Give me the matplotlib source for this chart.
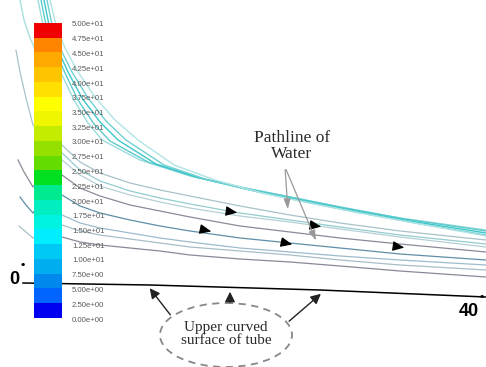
import numpy as np
import matplotlib.pyplot as plt
from matplotlib.colors import ListedColormap
from matplotlib.patches import Ellipse

W, H = 486, 367

# legend levels (0 .. 50 step 2.5) and band colours, bottom to top
levels = np.arange(0, 50.01, 2.5)
level_labels = [f"{v:.2e}" for v in levels]
band_colors = ['#0000f0', '#0064ff', '#0088ec', '#00aef0', '#00c8f4',
               '#00eeff', '#00f2e0', '#00eec0', '#00ea90', '#00e020',
               '#64dc00', '#96e000', '#c4ec00', '#eef600', '#ffff00',
               '#ffe000', '#ffc400', '#ffa800', '#ff8400', '#f00000']

# pathlines (image pixel units, y downward)
cyan_lines = [
    [(20, 0), (24, 20), (30, 38), (40, 60)],
    [(38, 0), (43, 25), (52, 50), (62, 75), (74, 100), (88, 123), (102, 140), (140, 160),
     (190, 176), (240, 187), (290, 197), (340, 207), (400, 218), (486, 230)],
    [(41, 0), (46, 25), (55, 50), (65, 73), (78, 100), (94, 124), (110, 141), (148, 162),
     (195, 177), (245, 188), (295, 198), (345, 208), (405, 219), (486, 231)],
    [(44, 0), (49, 25), (58, 50), (68, 72), (82, 98), (100, 122), (118, 140), (156, 164),
     (200, 178), (250, 190), (300, 200), (350, 210), (410, 221), (486, 233)],
    [(47, 0), (52, 25), (61, 50), (72, 72), (88, 98), (106, 121), (126, 140), (164, 165),
     (208, 180), (258, 192), (305, 202), (355, 212), (415, 223), (486, 235)],
    [(50, 0), (56, 25), (65, 48), (78, 72), (95, 97), (115, 120), (138, 140), (174, 165),
     (215, 180), (262, 193), (310, 203), (360, 213), (420, 224), (486, 236)],
]
cyan_colors = ['#a8dede', '#9adcdc', '#5ccacc', '#3cc6ca', '#6ed0d2', '#b0e4e4']

path_x = [62, 80, 100, 130, 160, 190, 240, 290, 340, 400, 486]
other_y = [
    [145, 162, 173, 183, 190, 196, 206, 215, 223, 231, 240],
    [153, 170, 181, 191, 198, 204, 213, 220, 227, 235, 244],
    [160, 175, 186, 195, 202, 208, 216, 222, 229, 237, 247],
    [175, 188, 196, 205, 211, 217, 226, 232, 238, 244, 252],
    [195, 206, 213, 220, 226, 231, 238, 243, 248, 254, 260],
    [215, 223, 228, 233, 238, 242, 248, 252, 256, 260, 265],
    [225, 231, 235, 239, 243, 247, 251, 255, 260, 265, 270],
    [237, 242, 245, 248, 251, 255, 259, 262, 266, 271, 277],
]
# upstream parts left of the legend bar
other_lead = [
    [(16, 50), (20, 72), (26, 98), (33, 125), (48, 138)],
    [(40, 140)],
    [(40, 150)],
    [(18, 160), (24, 172), (33, 187), (48, 168)],
    [(20, 197), (26, 205), (33, 213), (48, 195)],
    [(40, 210)],
    [(19, 226), (26, 232), (33, 238), (48, 228)],
    [(40, 235)],
]
other_colors = ['#a8c2c8', '#94ccd0', '#b6d0d6', '#8e8898', '#5e8ea8',
                '#9cbccc', '#a6bec8', '#8a8896']

# flow direction arrows (tail, tip)
flow_tail = [(226, 211), (310, 225), (200, 229), (281, 242), (393, 246)]
flow_tip = [(240, 213), (324, 227), (214, 232), (295, 245), (407, 248)]

surface = [(23, 283), (150, 285), (320, 290), (486, 297)]

fig = plt.figure(figsize=(W / 100, H / 100), dpi=100)
ax = fig.add_axes([0, 0, 1, 1])
ax.set_xlim(0, W)
ax.set_ylim(H, 0)
ax.axis('off')

for pts, c in zip(cyan_lines, cyan_colors):
    xs, ys = zip(*pts)
    ax.plot(xs, ys, color=c, lw=1.0, zorder=2, solid_capstyle='round')

for lead, ys, c in zip(other_lead, other_y, other_colors):
    xs = [p[0] for p in lead] + path_x
    yy = [p[1] for p in lead] + ys
    ax.plot(xs, yy, color=c, lw=0.9, zorder=1)

for t, h in zip(flow_tail, flow_tip):
    ax.annotate('', xy=h, xytext=t, zorder=4,
                arrowprops=dict(arrowstyle='-|>,head_length=0.7,head_width=0.3',
                                color='black', lw=0.8))

sx, sy = zip(*surface)
ax.plot(sx, sy, color='black', lw=1.1, zorder=3)

# legend bar
bar_top, bar_bot = 23, 318
cmap = ListedColormap(band_colors)
ax.imshow(np.arange(20)[::-1].reshape(-1, 1), cmap=cmap, aspect='auto',
          extent=(34, 61, bar_bot, bar_top), origin='upper', zorder=5,
          interpolation='nearest')
for v, lab in zip(levels, level_labels):
    y = bar_bot - v / 50 * (bar_bot - bar_top) + 2
    ax.text(72, y, lab, fontsize=5.6, color='#5a5a5a', va='center', ha='left',
            family='Liberation Sans', zorder=6)

ax.text(9, 279, '0', fontsize=13, weight='bold', family='Liberation Sans',
        va='center', ha='left', zorder=6)
ax.text(20, 271, '˚', fontsize=9, weight='bold', family='DejaVu Sans',
        va='center', ha='left', zorder=6)
ax.text(459, 311, '40', fontsize=13, weight='bold', family='Liberation Sans',
        va='center', ha='left', zorder=6)
ax.text(479, 302, '˚', fontsize=9, weight='bold', family='DejaVu Sans',
        va='center', ha='left', zorder=6)

ax.text(292, 146, 'Pathline of\nWater', fontsize=12.5, family='Liberation Serif',
        color='#2a2a2a', ha='center', va='center', linespacing=1.05, zorder=6)
for tip in [(288, 212), (317, 243)]:
    ax.annotate('', xy=tip, xytext=(285, 167), zorder=6,
                arrowprops=dict(arrowstyle='-|>,head_length=0.6,head_width=0.2',
                                color='#999999', lw=0.9))

ax.add_patch(Ellipse((226, 335), 132, 64, fill=False, ls=(0, (4, 3)),
                     edgecolor='#888888', lw=1.3, zorder=6))
ax.text(226, 334, 'Upper curved\nsurface of tube', fontsize=11,
        family='Liberation Serif', color='#2a2a2a', ha='center', va='center',
        linespacing=1.0, zorder=6)
for t, h in [((172, 317), (148, 286)), ((230, 305), (230, 289)), ((287, 323), (323, 292))]:
    ax.annotate('', xy=h, xytext=t, zorder=6,
                arrowprops=dict(arrowstyle='-|>,head_length=0.6,head_width=0.3',
                                color='#222222', lw=1.0))

fig.savefig('out.png', dpi=100)
